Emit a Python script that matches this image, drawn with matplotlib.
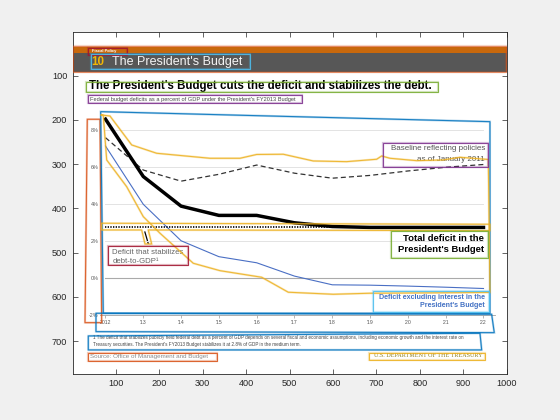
import numpy as np
import matplotlib.pyplot as plt
from matplotlib.patches import Polygon, Rectangle

plt.rcParams['font.family'] = ['Liberation Sans', 'DejaVu Sans']

# ---- inner chart: federal deficits, percent of GDP ----
years = [2012, 2013, 2014, 2015, 2016, 2017, 2018, 2019, 2020, 2021, 2022]
year_labels = ['2012', "'13", "'14", "'15", "'16", "'17", "'18", "'19", "'20", "'21", "'22"]
total_deficit = [8.6, 5.5, 3.9, 3.4, 3.4, 3.0, 2.8, 2.75, 2.75, 2.75, 2.75]
baseline = [7.6, 5.85, 5.25, 5.62, 6.12, 5.68, 5.41, 5.56, 5.8, 6.0, 6.15]
excl_interest = [7.15, 4.0, 2.03, 1.17, 0.84, 0.12, -0.35, -0.37, -0.42, -0.48, -0.55]
stabilizing = [2.8, 2.8, 2.8, 2.8, 2.8, 2.8, 2.8, 2.8, 2.8, 2.8, 2.8]
pct_ticks = [-2, 0, 2, 4, 6, 8]
pct_labels = ['-2%', '0%', '2%', '4%', '6%', '8%']

# ---- page image (pixel coords) ----
img_w, img_h = 1000, 773
xticks_main = [100, 200, 300, 400, 500, 600, 700, 800, 900, 1000]
yticks_main = [100, 200, 300, 400, 500, 600, 700]

# annotation boxes: (x0, y0, x1, y1) in image pixels
box_band = (0.5, 34.3, 998.6, 91.9)
box_fiscal = (34.8, 38.4, 124.6, 53.5)
box_title = (41.7, 51.3, 408.7, 85.8)
box_headline = (30.9, 115.2, 841.9, 137.1)
box_subtitle = (34.8, 143.8, 527.8, 162.6)
box_stabilize = (82.3, 484.8, 266.6, 527.7)
box_baseline = (715.8, 252.9, 957.8, 305.7)
box_total = (732.9, 450.2, 957.8, 512.6)
box_excl = (692.8, 585.7, 960.1, 633.1)
box_source = (36.2, 727.1, 332.0, 743.8)
box_treasury = (683.6, 725.7, 950.2, 742.2)

# irregular annotation outlines
poly_ylabels = [(33.9, 198.7), (63.1, 198.7), (67.0, 658.0), (28.6, 658.0)]
poly_plot = [(64.7, 181.5), (961.7, 204.1), (961.7, 636.8), (70.7, 636.8)]
poly_xlabels = [(53.9, 636.8), (965.6, 639.0), (971.6, 680.6), (53.9, 678.3)]
poly_footnote = [(36.2, 688.0), (938.7, 681.9), (942.6, 719.6), (36.2, 719.6)]
poly_stab_line = [(67.0, 433.5), (961.7, 435.8), (961.7, 450.2), (174.4, 448.7),
                  (182.2, 480.3), (166.8, 480.3), (159.2, 448.7), (67.0, 448.7)]
poly_lines = [(64.7, 189.0), (86.1, 191.3), (136.2, 256.7), (193.8, 275.5),
              (316.6, 286.8), (385.7, 286.8), (424.2, 278.2), (485.5, 277.7),
              (554.6, 292.9), (631.5, 294.4), (700.6, 289.0), (712.2, 281.6),
              (731.3, 286.8), (792.8, 292.2), (854.1, 290.6), (892.6, 284.5),
              (957.8, 289.5), (961.7, 589.8), (683.9, 591.6), (600.6, 593.9),
              (497.0, 589.3), (435.7, 555.5), (339.6, 540.6), (278.1, 523.9),
              (201.4, 456.1), (162.9, 418.6), (124.6, 350.9), (78.6, 290.6),
              (70.7, 189.0)]

# inner chart calibration in image pixels
yr0_x, yr_step = 75.8, 87.1
pct8_y, pct_step = 223.5, 41.8

fig = plt.figure(figsize=(5.6, 4.2), dpi=100, facecolor='#f0f0f0')
ax = fig.add_axes([0.13, 0.11, 0.775, 0.815])
ax.set_xlim(0.5, img_w + 0.5)
ax.set_ylim(img_h + 0.5, 0.5)
ax.set_facecolor('white')
ax.set_xticks(xticks_main)
ax.set_yticks(yticks_main)
ax.tick_params(direction='in', top=True, right=True, length=3.5, width=0.5,
               colors='#262626', labelsize=6.6, pad=4)
for s in ax.spines.values():
    s.set_linewidth(0.6)
    s.set_color('#262626')
    s.set_zorder(10)

# page header bands
ax.add_patch(Rectangle((0.5, 36.1), img_w, 12.2, facecolor='#c8680c', edgecolor='none'))
ax.add_patch(Rectangle((0.5, 48.3), img_w, 42.9, facecolor='#575757', edgecolor='none'))
ax.text(44, 45.2, 'Fiscal Policy', color='white', fontsize=2.9, fontweight='bold', va='center')
ax.text(44, 69.3, '10', color='#f2b705', fontsize=8.3, fontweight='bold', va='center')
ax.text(90, 69.3, "The President's Budget", color='#f4f4f4', fontsize=9.0, va='center')
ax.text(37.8, 124.6, "The President's Budget cuts the deficit and stabilizes the debt.",
        fontsize=8.3, fontweight='bold', va='center')
ax.text(40, 154, "Federal budget deficits as a percent of GDP under the President's FY2013 Budget",
        fontsize=4.1, color='#444444', va='center')

ax.text(950, 265.8, 'Baseline reflecting policies', fontsize=5.8, color='#555555',
        ha='right', va='center')
ax.text(950, 289.0, 'as of January 2011', fontsize=5.8, color='#555555', ha='right', va='center')
ax.text(948.6, 467.4, 'Total deficit in the', fontsize=6.8, fontweight='bold',
        ha='right', va='center')
ax.text(948.6, 493.8, "President's Budget", fontsize=6.8, fontweight='bold',
        ha='right', va='center')
ax.text(950, 600.6, 'Deficit excluding interest in the', fontsize=5.1, fontweight='bold',
        color='#4472c4', ha='right', va='center')
ax.text(950, 620.3, "President's Budget", fontsize=5.1, fontweight='bold',
        color='#4472c4', ha='right', va='center')
ax.text(91.5, 499.9, 'Deficit that stabilizes', fontsize=5.6, color='#666666', va='center')
ax.text(91.5, 520.2, 'debt-to-GDP¹', fontsize=5.6, color='#666666', va='center')
ax.plot([166.6, 174.2], [453.3, 478.7], color='black', lw=0.9)

ax.text(46.3, 692.5, '1 The deficit that stabilizes publicly held federal debt as a percent of GDP '
        'depends on several fiscal and economic assumptions, including economic growth and the '
        'interest rate on', fontsize=3.3, color='#444444', va='center')
ax.text(46.3, 708.3, "Treasury securities. The President's FY2013 Budget stabilizes it at 2.8% "
        'of GDP in the medium term.', fontsize=3.3, color='#444444', va='center')
ax.text(40.1, 735.4, 'Source: Office of Management and Budget', fontsize=4.5,
        color='#8c8c8c', va='center')
ax.text(694.4, 733.2, 'U.S. DEPARTMENT OF THE TREASURY', fontsize=4.4, color='#8f8120',
        family='Liberation Serif', va='center')

# inner chart axes, placed over the page image
x_left = yr0_x + (2011.85 - years[0]) * yr_step
x_right = yr0_x + (2022.3 - years[0]) * yr_step
y_top = pct8_y + (8 - 9.3) * pct_step
y_bot = pct8_y + (8 + 2.0) * pct_step
to_fig = fig.transFigure.inverted()
(fx0, fy0) = to_fig.transform(ax.transData.transform((x_left, y_bot)))
(fx1, fy1) = to_fig.transform(ax.transData.transform((x_right, y_top)))
ax_in = fig.add_axes([fx0, fy0, fx1 - fx0, fy1 - fy0])
ax_in.set_xlim(2011.85, 2022.3)
ax_in.set_ylim(-2.0, 9.3)
ax_in.patch.set_visible(False)
for name, s in ax_in.spines.items():
    s.set_visible(name == 'bottom')
ax_in.spines['bottom'].set_color('#a0a0a0')
ax_in.spines['bottom'].set_linewidth(0.6)
ax_in.set_xticks(years)
ax_in.set_xticklabels(year_labels)
ax_in.set_yticks(pct_ticks)
ax_in.set_yticklabels(pct_labels)
ax_in.tick_params(axis='x', direction='out', length=2, width=0.5, colors='#999999',
                  labelcolor='#555555', labelsize=3.7, pad=1)
ax_in.tick_params(axis='y', length=0, labelcolor='#555555', labelsize=3.9, pad=1)

for p in pct_ticks[2:]:
    ax_in.plot([years[0], years[-1]], [p, p], color='#e3e3e3', lw=0.7, zorder=1)
ax_in.plot([years[0], years[-1]], [0, 0], color='#aaaaaa', lw=0.8, zorder=1)

ax_in.plot(years, baseline, color='#333333', lw=0.9, ls=(0, (4, 2.5)), zorder=3)
ax_in.plot(years, excl_interest, color='#4a6fc4', lw=0.8, zorder=3)
ax_in.plot(years, total_deficit, color='black', lw=2.5, zorder=4, clip_on=False)
ax_in.plot(years, stabilizing, color='black', lw=1.2, ls=(0, (0.8, 0.8)), zorder=5)

# overlay axes for the annotation outlines
ax_top = fig.add_axes(ax.get_position())
ax_top.set_xlim(ax.get_xlim())
ax_top.set_ylim(ax.get_ylim())
ax_top.axis('off')

def outline(pts, color, alpha=0.85):
    ax_top.add_patch(Polygon(pts, closed=True, fill=False, edgecolor=color,
                             lw=1.6, alpha=alpha * 0.35))
    ax_top.add_patch(Polygon(pts, closed=True, fill=False, edgecolor=color,
                             lw=0.8, alpha=alpha))

def rect_pts(b):
    x0, y0, x1, y1 = b
    return [(x0, y0), (x1, y0), (x1, y1), (x0, y1)]

outline(rect_pts(box_band), '#D95319', 0.6)
outline(rect_pts(box_fiscal), '#A2142F')
outline(rect_pts(box_title), '#4DBEEE')
outline(rect_pts(box_headline), '#77AC30')
outline(rect_pts(box_subtitle), '#7E2F8E')
outline(poly_ylabels, '#D95319')
outline(poly_plot, '#0072BD')
outline(poly_lines, '#EDB120')
outline(poly_stab_line, '#EDB120')
outline(rect_pts(box_stabilize), '#A2142F')
outline(rect_pts(box_baseline), '#7E2F8E')
outline(rect_pts(box_total), '#77AC30')
outline(rect_pts(box_excl), '#4DBEEE')
outline(poly_xlabels, '#0072BD')
outline(poly_footnote, '#0072BD')
outline(rect_pts(box_source), '#D95319')
outline(rect_pts(box_treasury), '#EDB120')

fig.savefig('out.png', dpi=100, facecolor=fig.get_facecolor())
